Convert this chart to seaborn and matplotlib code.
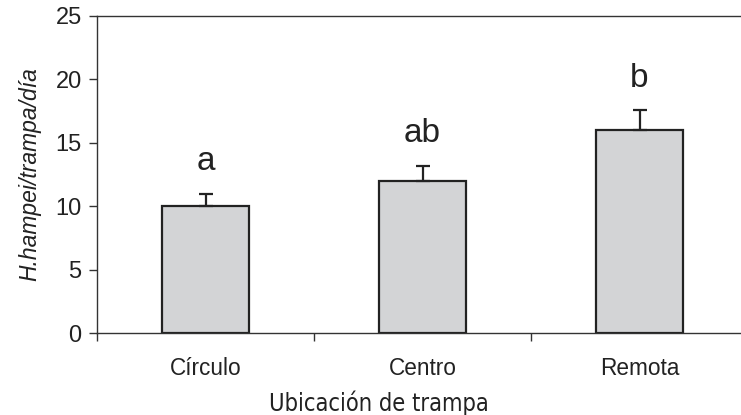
import matplotlib
matplotlib.use("Agg")
import matplotlib.pyplot as plt
import seaborn as sns
import pandas as pd

categories = ["Círculo", "Centro", "Remota"]
means = [10.0, 12.0, 16.0]
errors = [1.0, 1.2, 1.55]
letters = ["a", "ab", "b"]
yticks = [0, 5, 10, 15, 20, 25]

sns.set_theme(style="white")
plt.rcParams['font.family'] = ['Liberation Sans', 'DejaVu Sans']

df = pd.DataFrame({"cat": categories, "val": means})

fig = plt.figure(figsize=(7.41, 4.15), dpi=100)
W, H = 741, 415
x0, x1, y0, y1 = 97, 748, 333, 16
ax = fig.add_axes([x0 / W, 1 - y0 / H, (x1 - x0) / W, (y0 - y1) / H])

sns.barplot(data=df, x="cat", y="val", ax=ax, color="#d3d4d6",
            edgecolor="#222222", linewidth=1.6, width=0.40, errorbar=None,
            saturation=1)

ax.errorbar(range(len(categories)), means,
            yerr=[[0] * len(errors), errors], fmt="none",
            ecolor="#222222", elinewidth=1.6, capsize=5, capthick=1.6)

for i, (m, e, l) in enumerate(zip(means, errors, letters)):
    ax.annotate(l, (i, m + e), xytext=(0, 17), textcoords="offset points",
                ha="center", va="baseline", fontsize=24, color="#222222")

ax.set_xlim(-0.5, 2.5)
ax.set_ylim(0, 25)
ax.set_yticks(yticks)
ax.set_yticklabels([str(t) for t in yticks], fontsize=17, color="#222222")
ax.set_xticks(range(len(categories)))
ax.set_xticklabels(categories, fontsize=16.3, color="#222222")
ax.tick_params(axis="x", length=0, pad=17)
ax.set_xticks([-0.5, 0.5, 1.5], minor=True)
ax.tick_params(axis="x", which="minor", bottom=True, direction="out",
               length=6, width=1, color="#333333")
ax.tick_params(axis="y", left=True, direction="out", length=6, width=1,
               color="#333333", pad=5)

for s in ["left", "bottom", "top"]:
    ax.spines[s].set_visible(True)
    ax.spines[s].set_color("#333333")
    ax.spines[s].set_linewidth(1.0)
ax.spines["right"].set_visible(False)

ax.set_ylabel("H.hampei/trampa/día", fontsize=16.5, style="italic",
              color="#222222", labelpad=10)
ax.set_xlabel("Ubicación de trampa", fontsize=17, family="DejaVu Sans",
              fontstretch="condensed", color="#222222", labelpad=6)
ax.xaxis.set_label_coords(0.433, -0.18)

fig.savefig("out.png", dpi=100)
